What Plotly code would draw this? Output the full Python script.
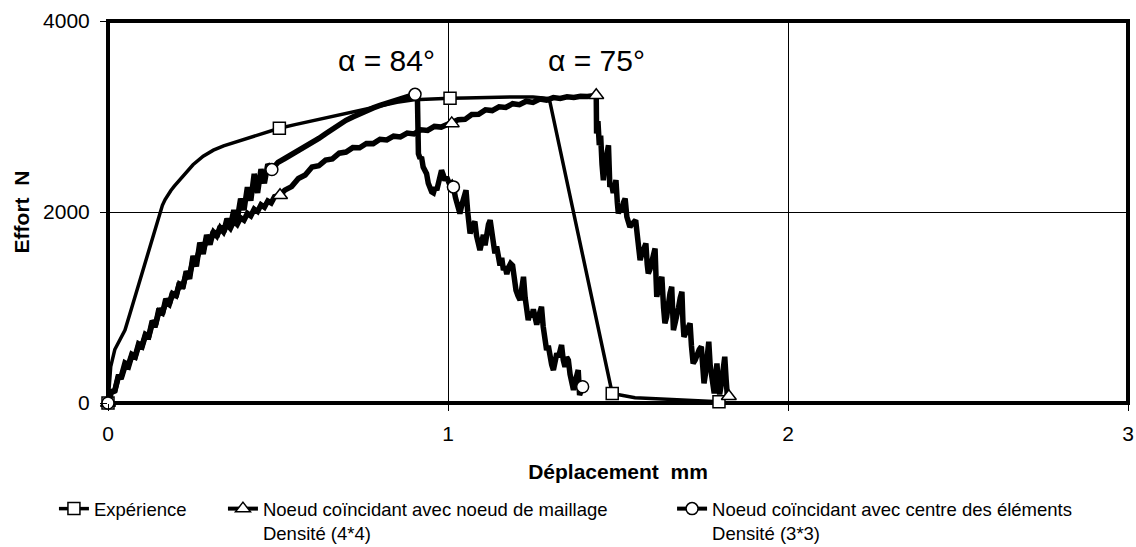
import plotly.graph_objects as go

# ---- Expérience (measured force-displacement curve) ----
exp_x = [0.0, 0.003, 0.008, 0.02, 0.035, 0.05, 0.07, 0.094, 0.115, 0.133, 0.145, 0.153,
         0.16, 0.168, 0.176, 0.185, 0.195, 0.21, 0.23, 0.25, 0.28, 0.31, 0.34, 0.368,
         0.40, 0.44, 0.47, 0.504, 0.55, 0.60, 0.65, 0.70, 0.75, 0.80, 0.85, 0.90, 0.95,
         1.006, 1.05, 1.10, 1.15, 1.20, 1.25, 1.28, 1.292, 1.30, 1.483, 1.55, 1.65,
         1.75, 1.797]
exp_y = [0, 200, 380, 560, 660, 764, 1000, 1287, 1550, 1778, 1920, 2000,
         2070, 2130, 2180, 2225, 2270, 2330, 2420, 2495, 2585, 2648, 2693, 2725,
         2760, 2810, 2845, 2877, 2915, 2955, 2995, 3035, 3075, 3115, 3150, 3175, 3185,
         3190, 3195, 3200, 3205, 3205, 3205, 3200, 3190, 3150, 100, 55, 35,
         20, 14]
exp_marks = [0.0, 0.504, 1.006, 1.483, 1.797]

# ---- Noeud coïncidant avec noeud de maillage, densité (4*4) ----
tri_x = [0.0, 0.01, 0.02, 0.03, 0.04, 0.05, 0.06, 0.07, 0.08, 0.09, 0.10, 0.11, 0.12,
         0.13, 0.14, 0.15, 0.16, 0.17, 0.18, 0.19, 0.20, 0.21, 0.22, 0.23, 0.24, 0.25,
         0.26, 0.27, 0.28, 0.29, 0.30, 0.31, 0.32, 0.33, 0.34, 0.35, 0.36, 0.37, 0.38,
         0.39, 0.40, 0.41, 0.42, 0.43, 0.44, 0.45, 0.46, 0.47, 0.48, 0.49, 0.506,
         0.52, 0.54, 0.56, 0.58, 0.60, 0.62, 0.64, 0.66, 0.68, 0.70, 0.72, 0.74, 0.76,
         0.78, 0.80, 0.82, 0.84, 0.86, 0.88, 0.90, 0.92, 0.94, 0.96, 0.98, 1.011,
         1.03, 1.05, 1.07, 1.09, 1.11, 1.13, 1.15, 1.17, 1.19, 1.21, 1.23, 1.25, 1.27,
         1.29, 1.31, 1.33, 1.35, 1.37, 1.39, 1.41, 1.436,
         1.437, 1.441, 1.445, 1.449, 1.453, 1.457, 1.462, 1.467, 1.472, 1.476, 1.481,
         1.486, 1.490, 1.494, 1.498, 1.501, 1.506, 1.511, 1.516, 1.521, 1.526, 1.531,
         1.535, 1.540, 1.546, 1.552, 1.557, 1.561, 1.565, 1.570, 1.576, 1.582, 1.586,
         1.589, 1.594, 1.599, 1.604, 1.609, 1.612, 1.614, 1.619, 1.624, 1.629, 1.634,
         1.638, 1.643, 1.648, 1.653, 1.658, 1.661, 1.663, 1.668, 1.673, 1.678, 1.683,
         1.688, 1.691, 1.694, 1.700, 1.706, 1.712, 1.716, 1.721, 1.727, 1.733, 1.739,
         1.745, 1.749, 1.753, 1.757, 1.762, 1.767, 1.771, 1.775, 1.779, 1.783, 1.787,
         1.791, 1.795, 1.799, 1.804, 1.809, 1.814, 1.818, 1.821, 1.826]
tri_y = [0, 110, 125, 265, 270, 385, 375, 495, 480, 600, 585, 705, 695,
         830, 820, 960, 940, 1055, 1030, 1145, 1125, 1245, 1225, 1345, 1345, 1490,
         1495, 1615, 1600, 1720, 1705, 1790, 1750, 1835, 1790, 1870, 1830, 1905, 1870,
         1940, 1915, 1985, 1960, 2030, 2005, 2075, 2050, 2115, 2095, 2160, 2175,
         2229, 2266, 2351, 2387, 2472, 2484, 2544, 2556, 2616, 2628, 2674, 2672, 2718,
         2716, 2762, 2754, 2794, 2786, 2826, 2818, 2860, 2854, 2896, 2889, 2928,
         2966, 2970, 3021, 3024, 3070, 3062, 3102, 3094, 3134, 3124, 3160, 3148, 3184,
         3172, 3198, 3190, 3207, 3199, 3212, 3210, 3222,
         2821, 2950, 2700, 2800, 2500, 2333, 2500, 2620, 2699, 2263, 2300,
         2200, 2280, 2333, 2100, 1984, 2050, 2000, 2100, 2141, 1950, 1880,
         1844, 1870, 1900, 1914, 1750, 1600, 1496, 1560, 1620, 1670, 1450,
         1357, 1400, 1500, 1560, 1618, 1300, 1112, 1200, 1260, 1321, 1000,
         834, 900, 1050, 1150, 1217, 900, 764, 840, 900, 1000, 1100,
         1165, 850, 694, 740, 780, 834, 600, 415, 450, 520, 560,
         589, 400, 206, 300, 450, 641, 400, 250, 150, 101, 250,
         415, 200, 90, 200, 350, 484, 250, 100, 70]
tri_marks = [0.0, 0.506, 1.011, 1.436, 1.826]

# ---- Noeud coïncidant avec centre des éléments, densité (3*3) ----
circ_x = [0.0, 0.01, 0.02, 0.03, 0.04, 0.05, 0.06, 0.07, 0.08, 0.09, 0.10, 0.11, 0.12,
          0.13, 0.14, 0.15, 0.16, 0.17, 0.18, 0.19, 0.20, 0.21, 0.22, 0.23, 0.24, 0.25,
          0.26, 0.27, 0.28, 0.29, 0.30, 0.31, 0.32, 0.33, 0.34, 0.35, 0.36, 0.37, 0.38,
          0.39, 0.40, 0.41, 0.42, 0.43, 0.44, 0.45, 0.46, 0.47, 0.482,
          0.50, 0.52, 0.54, 0.56, 0.58, 0.60, 0.62, 0.64, 0.66, 0.68, 0.70, 0.72, 0.74,
          0.76, 0.78, 0.80, 0.82, 0.84, 0.86, 0.88, 0.903,
          0.910, 0.912, 0.913, 0.918, 0.922, 0.927, 0.932, 0.937, 0.942, 0.947, 0.952,
          0.957, 0.962, 0.967, 0.972, 0.977, 0.981, 0.986, 0.991, 0.996, 1.001, 1.006,
          1.011, 1.016,
          1.022, 1.028, 1.035, 1.041, 1.047, 1.053, 1.058, 1.062, 1.065, 1.070, 1.075,
          1.079, 1.084, 1.089, 1.094, 1.099, 1.104, 1.109, 1.114, 1.119, 1.124, 1.129,
          1.134, 1.138, 1.143, 1.148, 1.153, 1.158, 1.163, 1.168, 1.173, 1.178, 1.184,
          1.190, 1.195, 1.200, 1.206, 1.212, 1.217, 1.222, 1.227, 1.231, 1.236, 1.241,
          1.246, 1.251, 1.256, 1.261, 1.266, 1.271, 1.275, 1.280, 1.285, 1.290, 1.295,
          1.300, 1.305, 1.310, 1.315, 1.320, 1.325, 1.330, 1.334, 1.339, 1.344, 1.349,
          1.354, 1.359, 1.364, 1.369, 1.376, 1.383, 1.387, 1.396]
circ_y = [0, 120, 130, 280, 290, 420, 400, 510, 490, 620, 600, 720, 700,
          860, 820, 990, 930, 1090, 1030, 1160, 1110, 1260, 1200, 1380, 1300, 1540,
          1430, 1680, 1560, 1760, 1660, 1800, 1740, 1850, 1790, 1930, 1850, 2020, 1920,
          2140, 2020, 2260, 2120, 2400, 2200, 2450, 2300, 2500, 2444,
          2520, 2560, 2600, 2640, 2680, 2720, 2770, 2820, 2870, 2920, 2960, 2995, 3030,
          3060, 3090, 3117, 3140, 3165, 3190, 3210, 3232,
          3215, 2900, 2611, 2560, 2577, 2470, 2420, 2402, 2300, 2228, 2210,
          2200, 2260, 2230, 2330, 2400, 2437, 2390, 2330, 2367, 2300, 2280,
          2300, 2263,
          2150, 2050, 1984, 2080, 2160, 2228, 2000, 1850, 1775, 1840, 1880,
          1900, 1750, 1660, 1600, 1680, 1760, 1650, 1800, 1870, 1914, 1750,
          1620, 1566, 1640, 1500, 1440, 1520, 1391, 1430, 1350, 1420, 1461,
          1440, 1300, 1180, 1120, 1077, 1200, 1321, 1100, 950, 868, 950,
          900, 980, 880, 820, 900, 960, 1007, 800, 650, 554, 600,
          480, 400, 345, 430, 520, 480, 560, 607, 450, 380, 480,
          450, 300, 200, 136, 250, 345, 84, 171]
circ_marks = [0.0, 0.482, 0.903, 1.016, 1.396]

x_ticks = [0, 1, 2, 3]
y_ticks = [0, 2000, 4000]

FONT = "Liberation Sans"


def pick(xs, ys, marks):
    sel = [(x, y) for x, y in zip(xs, ys) if x in marks]
    return [p[0] for p in sel], [p[1] for p in sel]


series = [
    ("Expérience", exp_x, exp_y, exp_marks, "square", 12, 3.5, "legend"),
    ("Noeud coïncidant avec noeud de maillage<br>Densité (4*4)",
     tri_x, tri_y, tri_marks, "triangle-up", 13, 5.5, "legend2"),
    ("Noeud coïncidant avec centre des éléments<br>Densité (3*3)",
     circ_x, circ_y, circ_marks, "circle", 12, 5.5, "legend3"),
]

fig = go.Figure()
for name, xs, ys, marks, sym, msize, lw, leg in series:
    fig.add_trace(go.Scatter(
        x=xs, y=ys, mode="lines", line=dict(color="black", width=lw),
        showlegend=False, cliponaxis=False, hoverinfo="skip"))
    mx, my = pick(xs, ys, marks)
    fig.add_trace(go.Scatter(
        x=mx, y=my, mode="markers", showlegend=False, cliponaxis=False,
        marker=dict(symbol=sym, size=msize, color="white",
                    line=dict(color="black", width=1.5))))
    # legend entry (line + marker sample)
    fig.add_trace(go.Scatter(
        x=[None], y=[None], mode="lines+markers", name=name, legend=leg,
        line=dict(color="black", width=min(lw, 4)),
        marker=dict(symbol=sym, size=msize, color="white",
                    line=dict(color="black", width=1.5))))

fig.add_annotation(x=0.818, y=3590, text="α = 84°", showarrow=False,
                   font=dict(family=FONT, size=30, color="black"),
                   xanchor="center", yanchor="middle")
fig.add_annotation(x=1.438, y=3590, text="α = 75°", showarrow=False,
                   font=dict(family=FONT, size=30, color="black"),
                   xanchor="center", yanchor="middle")

# plot frame
fig.add_shape(type="rect", xref="x domain", yref="y domain", x0=0, x1=1, y0=0, y1=1,
              line=dict(color="black", width=4), layer="below")

leg_common = dict(orientation="h", xanchor="left", yanchor="top", y=-0.228,
                  valign="top", bgcolor="rgba(0,0,0,0)", borderwidth=0,
                  font=dict(family=FONT, size=18.5, color="black"))

fig.update_layout(
    width=1136, height=547,
    margin=dict(l=108, r=8, t=21, b=144, autoexpand=False),
    paper_bgcolor="white", plot_bgcolor="white",
    font=dict(family=FONT, size=21, color="black"),
    xaxis=dict(range=[0, 3], tickvals=x_ticks, ticks="outside", ticklen=7,
               tickcolor="black", tickwidth=1, showgrid=True, gridcolor="black",
               gridwidth=1, zeroline=False, showline=False, automargin=False,
               ticklabelstandoff=5,
               tickfont=dict(family=FONT, size=21, color="black"),
               title=dict(text="Déplacement\u00a0\u00a0mm", standoff=20,
                          font=dict(family=FONT, size=21, color="black", weight="bold"))),
    yaxis=dict(range=[0, 4000], tickvals=y_ticks, ticks="outside", ticklen=7,
               tickcolor="black", tickwidth=1, showgrid=True, gridcolor="black",
               gridwidth=1, zeroline=False, showline=False, automargin=False,
               ticklabelstandoff=6,
               tickfont=dict(family=FONT, size=21, color="black"),
               title=dict(text="Effort\u00a0\u00a0N", standoff=7,
                          font=dict(family=FONT, size=21, color="black", weight="bold"))),
    legend=dict(x=-0.053, **leg_common),
    legend2=dict(x=0.1127, **leg_common),
    legend3=dict(x=0.553, **leg_common),
)

fig.write_html("out.html")
